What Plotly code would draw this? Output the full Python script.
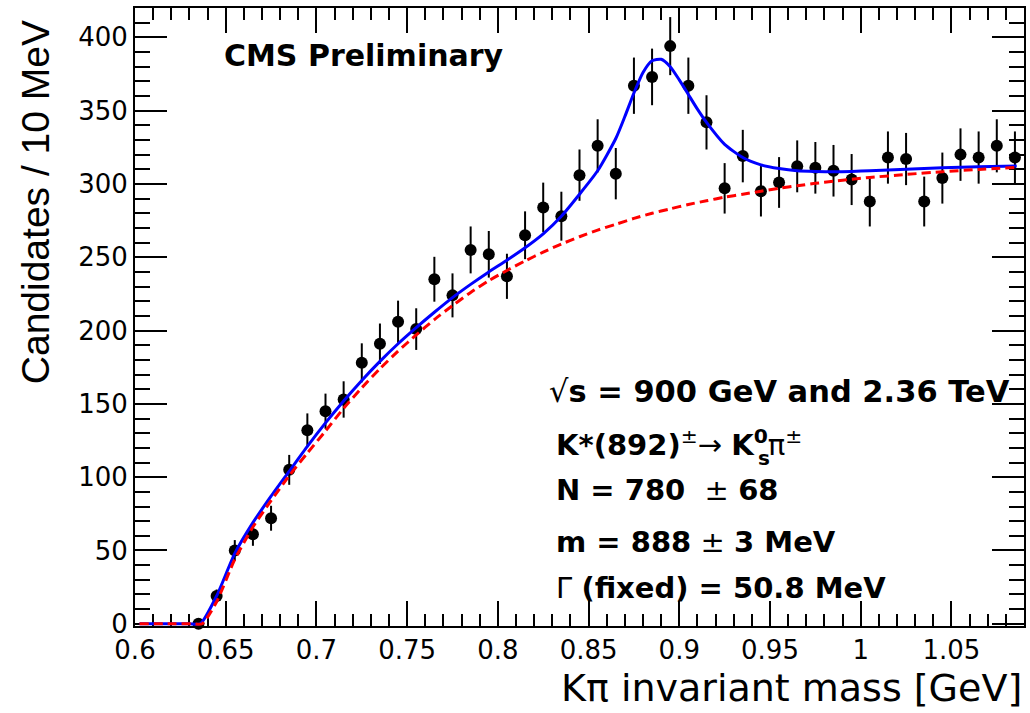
import plotly.graph_objects as go

# ---------------- data ----------------
mass = [0.635, 0.645, 0.655, 0.665, 0.675, 0.685, 0.695, 0.705, 0.715, 0.725,
        0.735, 0.745, 0.755, 0.765, 0.775, 0.785, 0.795, 0.805, 0.815, 0.825,
        0.835, 0.845, 0.855, 0.865, 0.875, 0.885, 0.895, 0.905, 0.915, 0.925,
        0.935, 0.945, 0.955, 0.965, 0.975, 0.985, 0.995, 1.005, 1.015, 1.025,
        1.035, 1.045, 1.055, 1.065, 1.075, 1.085]
counts = [0, 19, 50, 61, 72, 105, 132, 145, 153, 178,
          191, 206, 201, 235, 224, 255, 252, 237, 265, 284,
          278, 306, 326, 307, 367, 373, 394, 367, 342, 297,
          319, 295, 301, 312, 311, 309, 303, 288, 318, 317,
          288, 304, 320, 318, 326, 318]
errors = [0, 4.4, 7.1, 7.8, 8.5, 10.2, 11.5, 12.0, 12.4, 13.3,
          13.8, 14.4, 14.2, 15.3, 15.0, 16.0, 15.9, 15.4, 16.3, 16.9,
          16.7, 17.5, 18.1, 17.5, 19.2, 19.3, 19.8, 19.2, 18.5, 17.2,
          17.9, 17.2, 17.3, 17.7, 17.6, 17.6, 17.4, 17.0, 17.8, 17.8,
          17.0, 17.4, 17.9, 17.8, 18.1, 17.8]

# total fit (signal + background)
fit_x = [0.6025, 0.62, 0.63, 0.636, 0.645, 0.655, 0.665, 0.675, 0.685, 0.695, 0.705, 0.715,
         0.725, 0.735, 0.745, 0.755, 0.765, 0.775, 0.785, 0.795, 0.805, 0.815,
         0.825, 0.835, 0.845, 0.855, 0.865, 0.870, 0.875, 0.880, 0.885, 0.890,
         0.895, 0.900, 0.905, 0.910, 0.915, 0.925, 0.935, 0.945, 0.955, 0.965,
         0.975, 0.985, 0.995, 1.005, 1.025, 1.045, 1.065, 1.086]
fit_y = [0, 0, 0, 0, 19, 48, 69, 87, 104, 121, 137, 152,
         166, 179, 191, 202, 212.5, 222.5, 231.5, 240, 248, 256.5,
         266, 278, 293, 309, 331, 346, 362, 376, 384, 385,
         380, 371, 361, 351, 342, 327, 318, 313, 310.5, 309,
         308.5, 308.3, 308.5, 309, 310, 311, 311.8, 312.3]

# background component
bkg_x = [0.6025, 0.62, 0.631, 0.637, 0.645, 0.655, 0.665, 0.675, 0.685, 0.695, 0.705, 0.715,
         0.725, 0.735, 0.745, 0.755, 0.765, 0.775, 0.785, 0.795, 0.805, 0.815,
         0.825, 0.835, 0.845, 0.855, 0.865, 0.875, 0.885, 0.895, 0.905, 0.915,
         0.925, 0.935, 0.945, 0.955, 0.965, 0.975, 0.985, 0.995, 1.005, 1.025,
         1.045, 1.065, 1.086]
bkg_y = [0, 0, 0, 0, 15, 44, 66, 84, 101, 116.5, 131.5, 147,
         161, 174, 186, 197, 207.5, 217, 226, 234, 241, 247.5,
         253.5, 259, 264, 268.5, 272.5, 276.5, 280, 283, 286, 288.5,
         291, 293, 295, 297, 298.8, 300.4, 301.9, 303.2, 304.4, 306.5,
         308.3, 309.9, 311.3]

x_ticks = [0.6, 0.65, 0.7, 0.75, 0.8, 0.85, 0.9, 0.95, 1.0, 1.05]
x_tick_labels = ["0.6", "0.65", "0.7", "0.75", "0.8", "0.85", "0.9", "0.95", "1", "1.05"]
y_ticks = [0, 50, 100, 150, 200, 250, 300, 350, 400]

# ---------------- figure ----------------
W, H = 1030, 713
L, R, T, B = 135, 4, 8, 87
pw, ph = W - L - R, H - T - B


def px(xp):
    return (xp - L) / pw


def py(yp):
    return (H - B - yp) / ph


fig = go.Figure()
fig.add_trace(go.Scatter(
    x=mass, y=counts, mode="markers",
    marker=dict(color="black", size=12),
    error_y=dict(type="data", array=errors, visible=True, color="black",
                 thickness=2, width=0),
    cliponaxis=False, showlegend=False, hoverinfo="x+y"))
fig.add_trace(go.Scatter(
    x=fit_x, y=fit_y, mode="lines",
    line=dict(color="#0000ff", width=3, shape="spline", smoothing=0.6),
    showlegend=False))
fig.add_trace(go.Scatter(
    x=bkg_x, y=bkg_y, mode="lines",
    line=dict(color="#ff0000", width=3, dash="9px,5px", shape="spline", smoothing=0.6),
    showlegend=False))

tickfont = dict(family="DejaVu Sans", size=26, color="black")
fig.update_xaxes(range=[0.6, 1.09], tickvals=x_ticks, ticktext=x_tick_labels,
                 ticks="inside", ticklen=25, tickwidth=1.5, tickcolor="black",
                 minor=dict(dtick=0.01, tick0=0.6, ticks="inside", ticklen=12,
                            tickwidth=1.5, tickcolor="black", showgrid=False),
                 showline=True, linewidth=2, linecolor="black", mirror="allticks",
                 showgrid=False, zeroline=False, tickfont=tickfont,
                 layer="below traces")
fig.update_yaxes(range=[-1.5, 420], tickvals=y_ticks,
                 ticks="inside", ticklen=32, tickwidth=1.5, tickcolor="black",
                 minor=dict(dtick=10, tick0=0, ticks="inside", ticklen=15,
                            tickwidth=1.5, tickcolor="black", showgrid=False),
                 showline=True, linewidth=2, linecolor="black", mirror="allticks",
                 showgrid=False, zeroline=False, tickfont=tickfont,
                 layer="below traces")

ann = []
ann.append(dict(text="Candidates / 10 MeV", textangle=-90, x=px(35), y=py(18),
                xanchor="center", yanchor="top",
                font=dict(family="Liberation Sans", size=39, color="black")))
ann.append(dict(text="K\u03c0 invariant mass [GeV]", x=px(1026), y=py(688),
                xanchor="right", yanchor="middle",
                font=dict(family="DejaVu Sans", size=38, color="black")))
ann.append(dict(text="<b>CMS Preliminary</b>", x=px(222), y=py(56),
                xanchor="left", yanchor="middle",
                font=dict(family="DejaVu Sans", size=30, color="black")))
lines = [
    ("\u221a<b>s = 900 GeV and 2.36 TeV</b>", 548, 392, 30.5),
    ("<b>K*(892)</b><sup>\u00b1</sup>\u2192 <b>K<sup>0</sup></b>\u03c0<sup>\u00b1</sup>", 555, 443, 29),
    ("<b>N = 780 </b> \u00b1 <b>68</b>", 555, 490, 29),
    ("<b>m = 888</b> \u00b1 <b>3 MeV</b>", 555, 542, 29),
    ("\u0393 <b>(fixed) = 50.8 MeV</b>", 555, 588, 29),
]
for t, xx, yy, fs in lines:
    ann.append(dict(text=t, x=px(xx), y=py(yy), xanchor="left", yanchor="middle",
                    font=dict(family="DejaVu Sans", size=fs, color="black")))
# stacked subscript "s" under the superscript 0 of K
ann.append(dict(text="<b>s</b>", x=px(757), y=py(458), xanchor="left", yanchor="middle",
                font=dict(family="DejaVu Sans", size=20, color="black")))
for a in ann:
    a.update(xref="paper", yref="paper", showarrow=False)

fig.update_layout(width=W, height=H, margin=dict(l=L, r=R, t=T, b=B),
                  paper_bgcolor="white", plot_bgcolor="white",
                  annotations=ann, showlegend=False)

fig.write_html("out.html")
